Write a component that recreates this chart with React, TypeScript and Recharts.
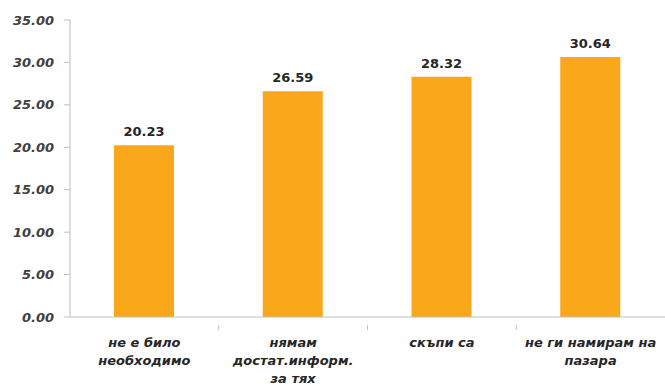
import React from "react";
import { BarChart, Bar, XAxis, YAxis, LabelList } from "recharts";

const categories = [
  "не е било необходимо",
  "нямам достат.информ. за тях",
  "скъпи са",
  "не ги намирам на пазара",
];
const categoryLines = [
  ["не е било", "необходимо"],
  ["нямам", "достат.информ.", "за тях"],
  ["скъпи са"],
  ["не ги намирам на", "пазара"],
];
const values = [20.23, 26.59, 28.32, 30.64];
const yTicks = [0, 5, 10, 15, 20, 25, 30, 35];

const data = categories.map((name, i) => ({ name, value: values[i] }));

const FONT = "'DejaVu Sans', sans-serif";
const AXIS_GREY = "#bfbfbf";

// Category label split over several lines, plus a small divider tick on the
// axis between neighbouring categories.
const CategoryTick = (props: any) => {
  const { x, y, payload, index, width, visibleTicksCount } = props;
  const lines = categoryLines[index] ?? [payload.value];
  const band = width && visibleTicksCount ? width / visibleTicksCount : 0;
  return (
    <g>
      {band > 0 && index < visibleTicksCount - 1 && (
        <line x1={x + band / 2} x2={x + band / 2} y1={y} y2={y + 5} stroke={AXIS_GREY} />
      )}
      {lines.map((line: string, i: number) => (
        <text
          key={i}
          x={x}
          y={y + 22 + i * 18}
          textAnchor="middle"
          fontFamily={FONT}
          fontSize={13}
          fontWeight={700}
          fontStyle="italic"
          fill="#262626"
        >
          {line}
        </text>
      ))}
    </g>
  );
};

export default function App() {
  return (
    <div style={{ position: "absolute", left: 0, top: 0, width: 665, height: 385, background: "#fff" }}>
      <BarChart
        width={665}
        height={385}
        data={data}
        margin={{ top: 20, right: 0, bottom: 0, left: 0 }}
        barCategoryGap={0}
      >
        <YAxis
          width={70}
          domain={[0, 35]}
          ticks={yTicks}
          interval={0}
          tickFormatter={(v: number) => v.toFixed(2)}
          axisLine={{ stroke: AXIS_GREY }}
          tickLine={{ stroke: AXIS_GREY }}
          tickSize={6}
          tickMargin={10}
          tick={{ fontFamily: FONT, fontSize: 13, fontWeight: 700, fontStyle: "italic", fill: "#404040" }}
        />
        <XAxis
          dataKey="name"
          height={68}
          interval={0}
          axisLine={{ stroke: AXIS_GREY }}
          tickLine={false}
          tick={<CategoryTick />}
        />
        <Bar dataKey="value" fill="#F9A71B" barSize={60} isAnimationActive={false}>
          <LabelList
            dataKey="value"
            position="top"
            offset={9}
            formatter={(v: number) => v.toFixed(2)}
            style={{ fontFamily: FONT, fontSize: 13, fontWeight: 700, fill: "#262626" }}
          />
        </Bar>
      </BarChart>
    </div>
  );
}
